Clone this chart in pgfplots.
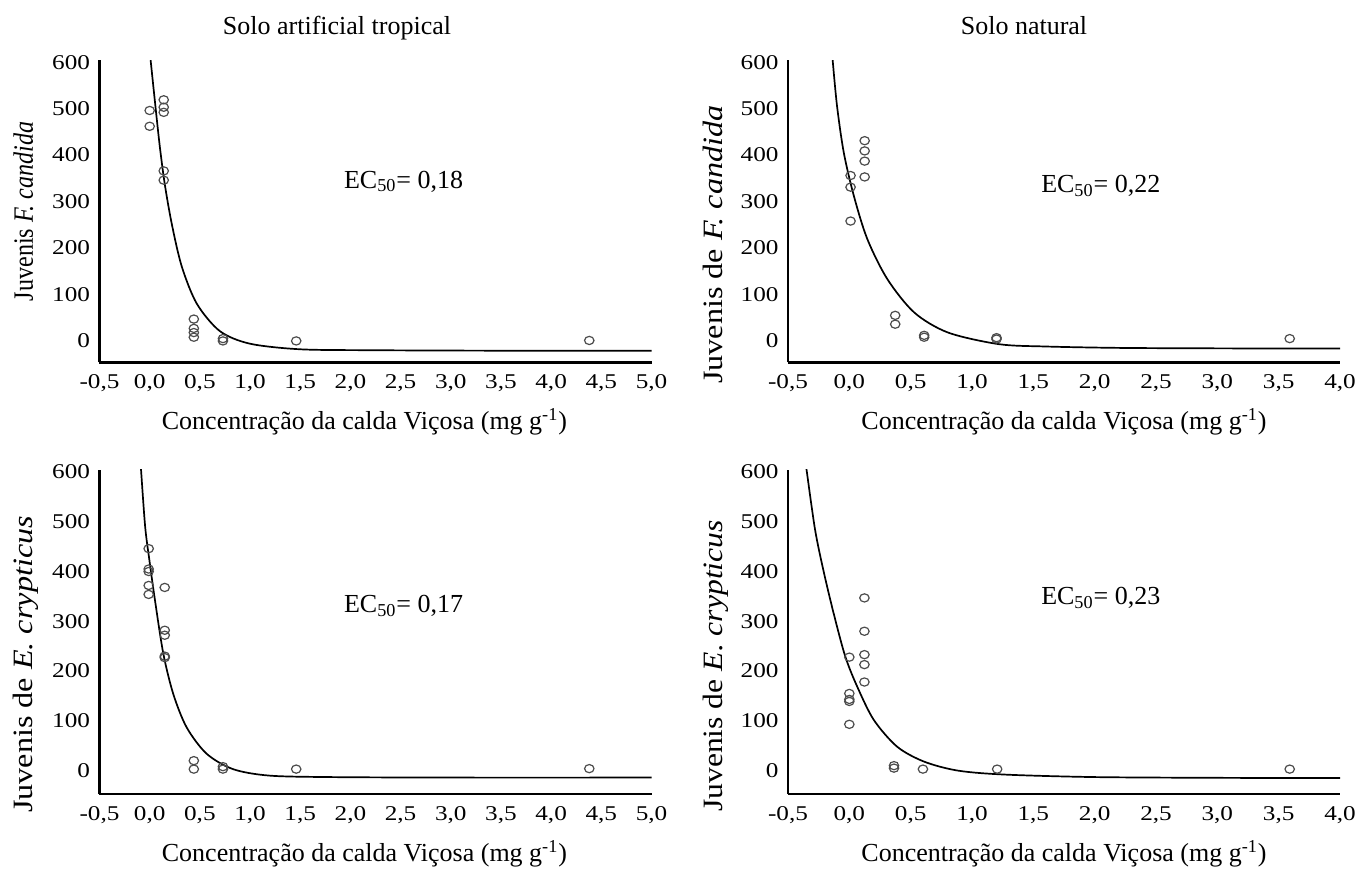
\documentclass[border=0pt]{standalone}
\usepackage{fontspec}
\setmainfont{Liberation Serif}
\newfontfamily\tickfont[FakeStretch=1.2]{Liberation Serif}
\usepackage{graphicx}
\usepackage{pgfplots}
\pgfplotsset{compat=1.18}

\pgfplotsset{
  painel/.style={
    scale only axis, width=276pt, anchor=south west,
    axis lines*=left,
    axis line style={line width=1.3pt, black},
    xmin=-0.5, ymax=604,
    major tick length=0pt,
    ytick={0,100,200,300,400,500,600},
    /pgf/number format/assume math mode=true,
    /pgf/number format/use comma,
    tick label style={font=\tickfont\fontsize{10.5}{12}\selectfont},
    xticklabel style={/pgf/number format/fixed,
      /pgf/number format/fixed zerofill, /pgf/number format/precision=1},
    xticklabel shift=2.8pt,
    yticklabel shift=1.2pt,
    xlabel={Concentração da calda Viçosa (mg g\textsuperscript{-1})},
    xlabel style={font=\fontsize{13}{15}\selectfont, anchor=base, yshift=-33.5pt},
    ylabel style={font=\fontsize{14}{16}\selectfont, anchor=base},
  },
  esq/.style={xmax=5.0, xtick={-0.5,0,0.5,1,1.5,2,2.5,3,3.5,4,4.5,5},
    xlabel style={at={(axis description cs:0.48,0)}}},
  dir/.style={xmax=4.0, xtick={-0.5,0,0.5,1,1.5,2,2.5,3,3.5,4},
    xlabel style={at={(axis description cs:0.5,0)}}},
  pontos/.style={only marks, mark=o, mark size=2.05pt,
    mark options={xscale=1.15, draw=black!70, line width=0.6pt}},
  ajuste/.style={no markers, smooth, line width=0.85pt, black},
}
\newcommand{\ectxt}[1]{EC\textsubscript{50}= #1}

\begin{document}
\begin{tikzpicture}

% Solo artificial tropical, F. candida
\begin{axis}[painel, esq, at={(49.75pt,253.35pt)}, height=151pt, ymin=-46,
  ylabel={\scalebox{0.86}[1]{Juvenis \textit{F. candida}}},
  ylabel style={at={(axis description cs:-0.1205,0.5)}}]
\addplot[pontos] coordinates {(0,496) (0,462) (0.14,519) (0.14,503) (0.14,492)
  (0.14,366) (0.14,346) (0.44,47) (0.44,27) (0.44,18) (0.44,8) (0.73,5) (0.73,0)
  (1.46,0) (4.38,1)};
\addplot[ajuste] coordinates {(0.0,625) (0.01,603) (0.05,520) (0.10,420) (0.15,338)
  (0.22,252) (0.32,160) (0.47,80) (0.70,21) (1.0,-6) (1.5,-18) (2.2,-20) (3.5,-21) (5.0,-21)};
\node[anchor=base, font=\fontsize{13}{15}\selectfont] at (axis cs:2.53,329) {\ectxt{0,18}};
\end{axis}

% Solo natural, F. candida
\begin{axis}[painel, dir, at={(394pt,253.35pt)}, height=151pt, ymin=-46,
  ylabel={\scalebox{1.15}[1]{Juvenis de \textit{F. candida}}},
  ylabel style={at={(axis description cs:-0.1178,0.39)}}]
\addplot[pontos] coordinates {(0.01,356) (0.01,331) (0.01,258) (0.125,431) (0.125,409)
  (0.125,387) (0.125,353) (0.374,55) (0.374,36) (0.61,12) (0.61,8) (1.20,7) (1.20,4)
  (3.59,5)};
\addplot[ajuste] coordinates {(-0.145,630) (-0.136,604) (-0.10,505) (-0.045,405) (0.037,312)
  (0.147,219) (0.31,133) (0.53,61) (0.805,18) (1.22,-7) (1.6,-12) (2.2,-15) (3.0,-16) (4.0,-16.5)};
\node[anchor=base, font=\fontsize{13}{15}\selectfont] at (axis cs:2.05,320) {\ectxt{0,22}};
\end{axis}

% Solo artificial tropical, E. crypticus
\begin{axis}[painel, esq, at={(49.75pt,37.5pt)}, height=162pt, ymin=-47,
  ylabel={\scalebox{1.15}[1]{Juvenis de \textit{E. crypticus}}},
  ylabel style={at={(axis description cs:-0.1205,0.40)}}]
\addplot[pontos] coordinates {(-0.01,446) (-0.01,405) (-0.01,400) (-0.01,372) (-0.01,354)
  (0.15,368) (0.15,282) (0.15,272) (0.15,230) (0.15,227) (0.44,20) (0.44,3)
  (0.73,8) (0.73,3) (1.46,3) (4.38,4)};
\addplot[ajuste] coordinates {(-0.095,630) (-0.086,604) (-0.045,490) (-0.003,423) (0.053,342)
  (0.136,235) (0.235,154) (0.368,87) (0.567,34) (0.83,3) (1.19,-10) (1.8,-13) (3.0,-14) (5.0,-14)};
\node[anchor=base, font=\fontsize{13}{15}\selectfont] at (axis cs:2.53,318) {\ectxt{0,17}};
\end{axis}

% Solo natural, E. crypticus
\begin{axis}[painel, dir, at={(394pt,37.5pt)}, height=162pt, ymin=-47,
  ylabel={\scalebox{1.13}[1]{Juvenis de \textit{E. crypticus}}},
  ylabel style={at={(axis description cs:-0.1178,0.395)}}]
\addplot[pontos] coordinates {(0,228) (0,155) (0,143) (0,139) (0,93) (0.123,347)
  (0.123,280) (0.123,233) (0.123,213) (0.123,178) (0.364,10) (0.364,5) (0.60,3)
  (1.205,3) (3.59,3)};
\addplot[ajuste] coordinates {(-0.36,625) (-0.349,605) (-0.28,485) (-0.212,403) (-0.13,318)
  (-0.034,230) (0.062,170) (0.199,102) (0.39,48) (0.61,18) (0.885,0) (1.27,-8) (2.0,-13)
  (3.0,-14.5) (4.0,-15)};
\node[anchor=base, font=\fontsize{13}{15}\selectfont] at (axis cs:2.05,333) {\ectxt{0,23}};
\end{axis}

\node[anchor=base, font=\fontsize{13}{15}\selectfont] at (168.5pt,417pt) {Solo artificial tropical};
\node[anchor=base, font=\fontsize{13}{15}\selectfont] at (512pt,417pt) {Solo natural};

\pgfresetboundingbox
\useasboundingbox (0,0) rectangle (680.5pt,434.5pt);
\end{tikzpicture}
\end{document}
